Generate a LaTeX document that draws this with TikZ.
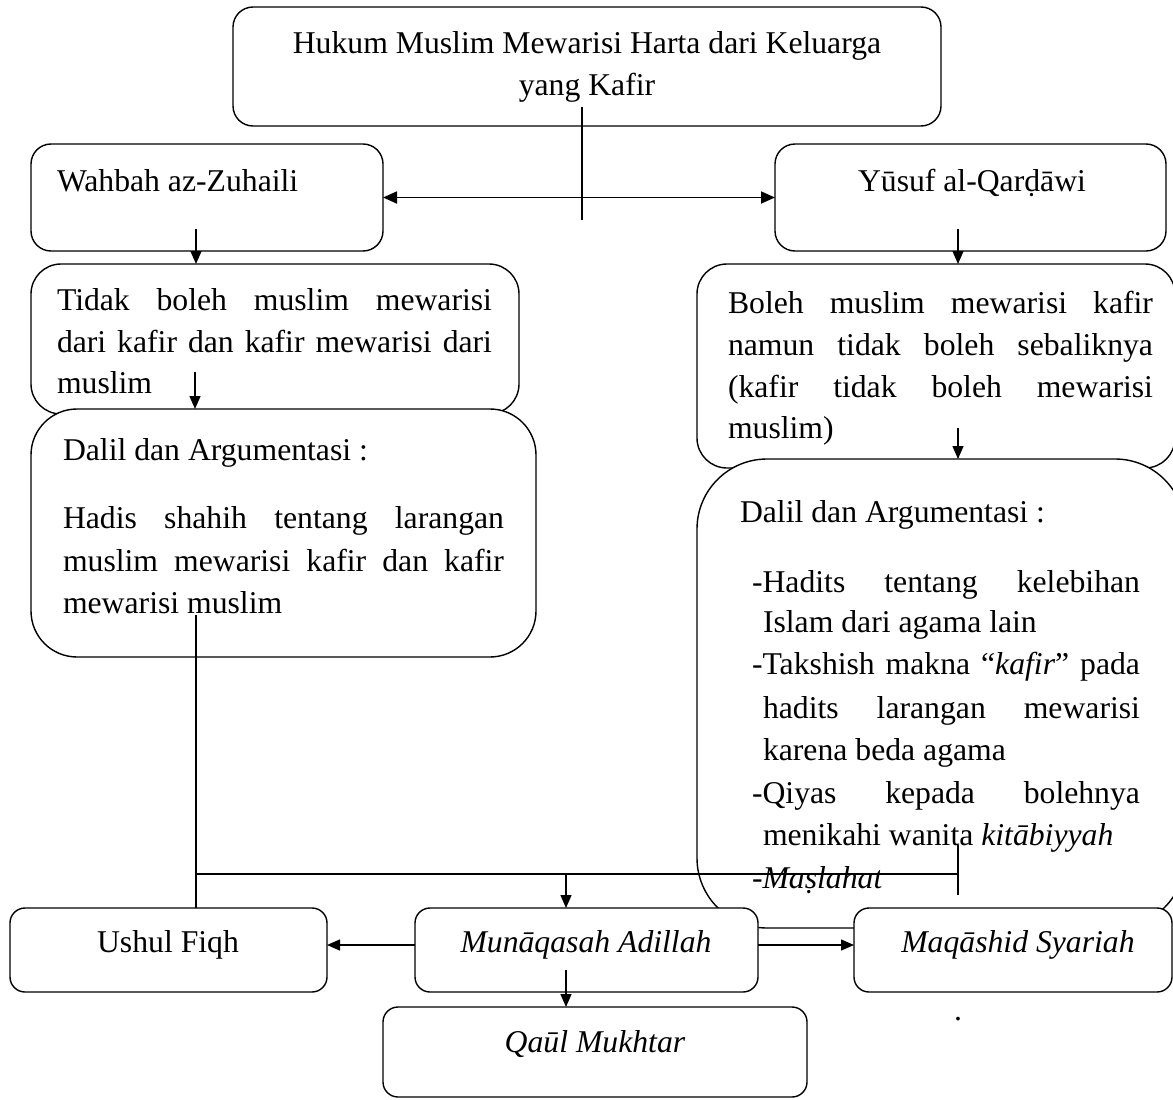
\documentclass[tikz,border=0pt]{standalone}
\usepackage{fontspec}
\setmainfont{Liberation Serif}
\usetikzlibrary{arrows.meta}
\tikzset{
 box/.style={draw, line width=1.4pt, fill=white, inner sep=0pt, outer sep=0pt},
 txt/.style={inner sep=0pt, outer sep=0pt, font=\fontsize{31.7}{40}\selectfont},
 conn/.style={line width=1.4pt},
 arr/.style={line width=1.4pt, -{Triangle[length=13pt,width=11pt]}},
 darr/.style={line width=1.8pt, {Triangle[length=14pt,width=12pt]}-{Triangle[length=14pt,width=12pt]}},
}
\begin{document}
\begin{tikzpicture}[x=1pt,y=-1pt]
\useasboundingbox (0,0) rectangle (1173,1100);
% boxes
\node[box, minimum width=708pt, minimum height=119pt, rounded corners=20pt] (top) at (587,66.5) {};
\node[box, minimum width=352pt, minimum height=107pt, rounded corners=20pt] (wah) at (207,197.5) {};
\node[box, minimum width=391pt, minimum height=107pt, rounded corners=20pt] (yus) at (970.5,197.5) {};
\node[box, minimum width=488pt, minimum height=150pt, rounded corners=30pt] (tid) at (275,339) {};
\node[box, minimum width=505pt, minimum height=248pt, rounded corners=46pt] (dalL) at (283.5,533) {};
\node[box, minimum width=478pt, minimum height=204pt, rounded corners=30pt] (bol) at (936,366) {};
\node[box, minimum width=488pt, minimum height=469pt, rounded corners=70pt] (dalR) at (941,693.5) {};
\node[box, minimum width=317pt, minimum height=84pt, rounded corners=15pt] (ush) at (168.5,950) {};
\node[box, minimum width=343pt, minimum height=84pt, rounded corners=15pt] (mun) at (586.5,950) {};
\node[box, minimum width=318pt, minimum height=84pt, rounded corners=15pt] (maq) at (1013,950) {};
\node[box, minimum width=424pt, minimum height=90pt, rounded corners=15pt] (qaul) at (595,1052) {};
% texts
\node[txt, anchor=base] (tT1) at (587,53) {Hukum Muslim Mewarisi Harta dari Keluarga};
\node[txt, anchor=base] (tT2) at (587,95) {yang Kafir};
\node[txt, anchor=base west] (tW) at (57,191) {Wahbah az-Zuhaili};
\node[txt, anchor=base] (tY) at (972,191) {Yūsuf al-Qarḍāwi};
\node[txt, anchor=base west] (tA1) at (57,310) {\makebox[435pt][s]{Tidak boleh muslim mewarisi}};
\node[txt, anchor=base west] (tA2) at (57,352) {\makebox[435pt][s]{dari kafir dan kafir mewarisi dari}};
\node[txt, anchor=base west] (tA3) at (57,393) {muslim};
\node[txt, anchor=base west] (tB0) at (63,460) {Dalil dan Argumentasi :};
\node[txt, anchor=base west] (tB1) at (63,528) {\makebox[441pt][s]{Hadis shahih tentang larangan}};
\node[txt, anchor=base west] (tB2) at (63,571) {\makebox[441pt][s]{muslim mewarisi kafir dan kafir}};
\node[txt, anchor=base west] (tB3) at (63,613) {mewarisi muslim};
\node[txt, anchor=base west] (tC1) at (728,313) {\makebox[425pt][s]{Boleh muslim mewarisi kafir}};
\node[txt, anchor=base west] (tC2) at (728,355) {\makebox[425pt][s]{namun tidak boleh sebaliknya}};
\node[txt, anchor=base west] (tC3) at (728,397) {\makebox[425pt][s]{(kafir tidak boleh mewarisi}};
\node[txt, anchor=base west] (tC4) at (728,438) {muslim)};
\node[txt, anchor=base west] (tD0) at (740,522) {Dalil dan Argumentasi :};
\node[txt, anchor=base west] (tD1) at (752,592) {\makebox[388pt][s]{-Hadits tentang kelebihan}};
\node[txt, anchor=base west] (tD2) at (763,632) {Islam dari agama lain};
\node[txt, anchor=base west] (tD3) at (752,674) {\makebox[388pt][s]{-Takshish makna “\textit{kafir}” pada}};
\node[txt, anchor=base west] (tD4) at (763,718) {\makebox[377pt][s]{hadits larangan mewarisi}};
\node[txt, anchor=base west] (tD5) at (763,760) {karena beda agama};
\node[txt, anchor=base west] (tD6) at (752,803) {\makebox[388pt][s]{-Qiyas kepada bolehnya}};
\node[txt, anchor=base west] (tD7) at (763,845) {menikahi wanita \textit{kitābiyyah}};
\node[txt, anchor=base west] (tD8) at (752,888) {-\textit{Maṣlahat}};
\node[txt, anchor=base] (tU) at (168,952) {Ushul Fiqh};
\node[txt, anchor=base] (tM) at (586,952) {\textit{Munāqasah Adillah}};
\node[txt, anchor=base] (tQ) at (1018,952) {\textit{Maqāshid Syariah}};
\node[txt, anchor=base] (tK) at (595,1052) {\textit{Qaūl Mukhtar}};
\node[txt, anchor=base] (tdot) at (958,1020) {.};
% connectors
\coordinate (c1) at (582,107);
\coordinate (c2) at (582,220);
\draw[conn] (c1) -- (c2);
\draw[darr] (wah.east) -- (yus.west);
\coordinate (a1) at (196,229);
\draw[arr] (a1) -- (a1 |- tid.north);
\coordinate (a2) at (195,372);
\draw[arr] (a2) -- (a2 |- dalL.north);
\coordinate (a3) at (958,229);
\draw[arr] (a3) -- (a3 |- bol.north);
\coordinate (a4) at (958,428);
\draw[arr] (a4) -- (a4 |- dalR.north);
\coordinate (l1) at (196,615);
\draw[conn] (l1) -- (l1 |- ush.north);
\coordinate (h1) at (196,874);
\coordinate (h2) at (958,874);
\draw[conn] (h1) -- (h2);
\coordinate (v1) at (958,845);
\coordinate (v2) at (958,895);
\draw[conn] (v1) -- (v2);
\coordinate (m1) at (566,874);
\draw[arr] (m1) -- (m1 |- mun.north);
\draw[arr] ([yshift=5pt]mun.west) -- ([yshift=5pt]ush.east);
\draw[arr] ([yshift=5pt]mun.east) -- ([yshift=5pt]maq.west);
\coordinate (m2) at (566,970);
\draw[arr] (m2) -- (m2 |- qaul.north);
\end{tikzpicture}
\end{document}
